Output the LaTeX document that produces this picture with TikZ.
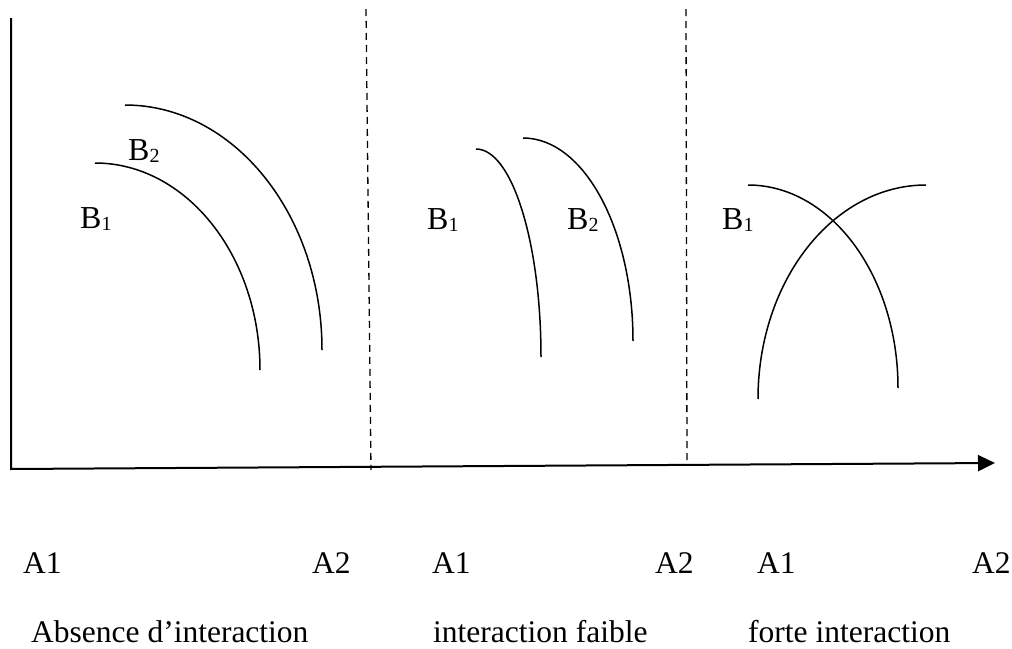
\documentclass[tikz,border=0pt]{standalone}
\usepackage{fontspec}
\setmainfont{Liberation Serif}
\usetikzlibrary{arrows.meta,calc}
\newcommand{\Bsub}[1]{B\raisebox{-2.5pt}{\fontsize{20}{20}\selectfont #1}}
\begin{document}
\begin{tikzpicture}[x=1pt,y=-1pt,
  lab/.style={anchor=base west, inner sep=0pt, font=\fontsize{31.5}{38}\selectfont},
  blab/.style={anchor=base west, inner sep=0pt, font=\fontsize{32}{38}\selectfont},
  curve/.style={line width=1.5pt},
  axis/.style={line width=2pt},
  sep/.style={dash pattern=on 7pt off 5pt, line width=1.3pt}]
\useasboundingbox (0,0) rectangle (1012,648);
% axes
\coordinate (Ytop) at (11,18);
\coordinate (O) at (11,469);
\coordinate (Xend) at (995,463);
\draw[axis, -{Triangle[length=17pt,width=16pt]}] (Ytop) -- (O) -- (Xend);
% separators
\coordinate (d1t) at (366,9); \coordinate (d1b) at (371,470);
\coordinate (d2t) at (686,9); \coordinate (d2b) at (687,464);
\draw[sep] (d1t) -- (d1b);
\draw[sep] (d2t) -- (d2b);
% panel 1 curves
\coordinate (p1as) at (95,163); \coordinate (p1ae) at (260,370);
\draw[curve] (p1as) .. controls ($(p1as)+(91.1,0)$) and ($(p1ae)+(0,-114.3)$) .. (p1ae);
\coordinate (p1bs) at (125,105); \coordinate (p1be) at (322,350);
\draw[curve] (p1bs) .. controls ($(p1bs)+(108.8,0)$) and ($(p1be)+(0,-135.3)$) .. (p1be);
% panel 2 curves
\coordinate (p2as) at (476,149); \coordinate (p2ae) at (541,357);
\draw[curve] (p2as) .. controls ($(p2as)+(35.9,0)$) and ($(p2ae)+(0,-114.9)$) .. (p2ae);
\coordinate (p2bs) at (523,138); \coordinate (p2be) at (633,341);
\draw[curve] (p2bs) .. controls ($(p2bs)+(60.8,0)$) and ($(p2be)+(0,-112.1)$) .. (p2be);
% panel 3 curves
\coordinate (p3as) at (748,185); \coordinate (p3ae) at (898,388);
\draw[curve] (p3as) .. controls ($(p3as)+(82.8,0)$) and ($(p3ae)+(0,-112.1)$) .. (p3ae);
\coordinate (p3bs) at (926,185); \coordinate (p3be) at (758,399);
\draw[curve] (p3bs) .. controls ($(p3bs)+(-92.8,0)$) and ($(p3be)+(0,-118.2)$) .. (p3be);
% B labels
\node[blab] (b2a) at (128,160) {\Bsub{2}};
\node[blab] (b1a) at (80,228) {\Bsub{1}};
\node[blab] (b1b) at (427,229) {\Bsub{1}};
\node[blab] (b2b) at (567,229) {\Bsub{2}};
\node[blab] (b1c) at (722,229) {\Bsub{1}};
% A labels
\node[lab] (a1a) at (23,573) {A1};
\node[lab] (a2a) at (312,573) {A2};
\node[lab] (a1b) at (432,573) {A1};
\node[lab] (a2b) at (655,573) {A2};
\node[lab] (a1c) at (757,573) {A1};
\node[lab] (a2c) at (972,573) {A2};
% captions
\node[lab] (t1) at (31,642) {Absence d’interaction};
\node[lab] (t2) at (433,642) {interaction faible};
\node[lab] (t3) at (748,642) {forte interaction};
\end{tikzpicture}
\end{document}
